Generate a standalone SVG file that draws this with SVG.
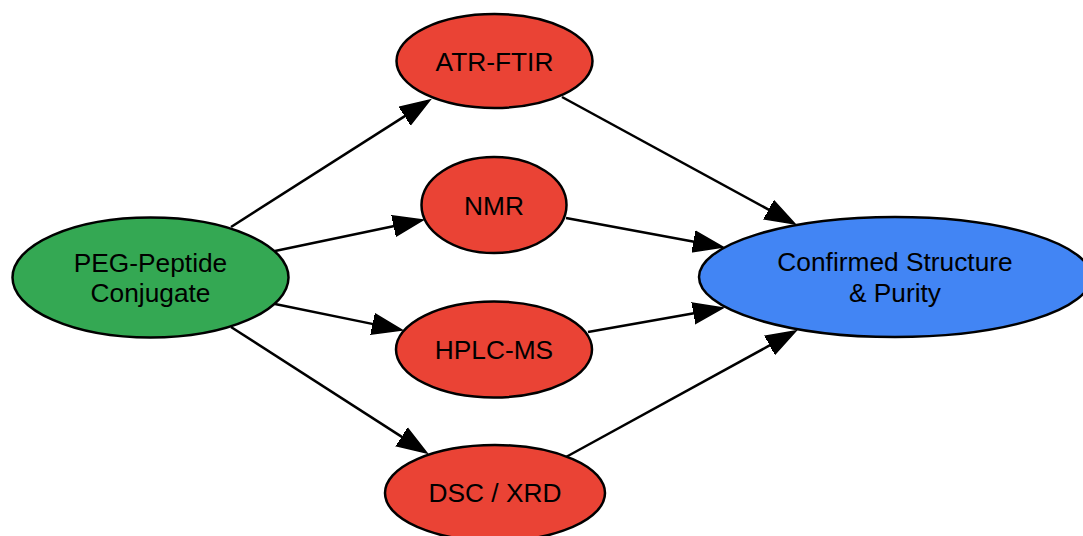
<svg xmlns="http://www.w3.org/2000/svg" width="1083" height="536" viewBox="0 0 1083 536">
<style>
.node ellipse{stroke:#000;stroke-width:2.5}
.node text{font-family:"Liberation Sans",Arial,sans-serif;font-size:26.3px;fill:#000;text-anchor:middle}
.edge{stroke:#000;stroke-width:2.5;fill:none;marker-end:url(#ah)}
</style>
<defs>
<marker id="ah" markerUnits="userSpaceOnUse" markerWidth="34" markerHeight="26" viewBox="0 -13 34 26" refX="2" refY="0" orient="auto">
<path d="M0,-10.5 L30,0 L0,10.5 Z" fill="#000" stroke="#000" stroke-width="1.5"/>
</marker>
</defs>
<rect width="1083" height="536" fill="#fff"/>
<g id="connectors">
<line class="edge" x1="231" y1="227" x2="406.4" y2="115.1"/>
<line class="edge" x1="275" y1="251" x2="395.6" y2="225.7"/>
<line class="edge" x1="275" y1="304" x2="374.6" y2="324.4"/>
<line class="edge" x1="231" y1="327" x2="403.4" y2="437.9"/>
<line class="edge" x1="562" y1="97" x2="770.4" y2="210.6"/>
<line class="edge" x1="566" y1="218" x2="695.5" y2="241.9"/>
<line class="edge" x1="588" y1="332" x2="695.4" y2="312.9"/>
<line class="edge" x1="566" y1="457" x2="771.4" y2="344.4"/>
</g>
<g id="peg" class="node">
<ellipse cx="150.5" cy="277.5" rx="138" ry="60" fill="#34a853"/>
<text x="150.5" y="271.5">PEG-Peptide</text>
<text x="150.5" y="302">Conjugate</text>
</g>
<g id="atr" class="node">
<ellipse cx="494.5" cy="61" rx="98" ry="47" fill="#ea4335"/>
<text x="494.5" y="71">ATR-FTIR</text>
</g>
<g id="nmr" class="node">
<ellipse cx="494" cy="205" rx="72.5" ry="48" fill="#ea4335"/>
<text x="494" y="215">NMR</text>
</g>
<g id="hplc" class="node">
<ellipse cx="494" cy="349.5" rx="98" ry="48" fill="#ea4335"/>
<text x="494" y="359">HPLC-MS</text>
</g>
<g id="dsc" class="node">
<ellipse cx="495" cy="493" rx="110" ry="48" fill="#ea4335"/>
<text x="495" y="502">DSC / XRD</text>
</g>
<g id="confirmed" class="node">
<ellipse cx="895" cy="277" rx="196" ry="60" fill="#4285f4"/>
<text x="895" y="271">Confirmed Structure</text>
<text x="895" y="302">&amp; Purity</text>
</g>
</svg>
